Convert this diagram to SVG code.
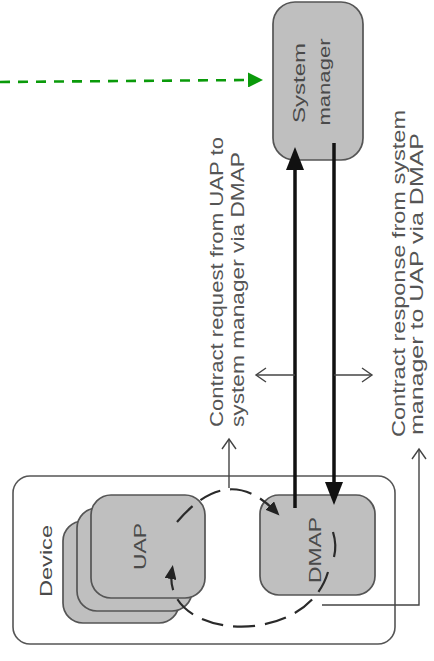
<svg xmlns="http://www.w3.org/2000/svg" width="434" height="661" viewBox="0 0 434 661">
<defs>
<style>
.dev{fill:#fff;stroke:#555;stroke-width:1.6}
.box{fill:#bfbfbf;stroke:#555;stroke-width:1.7}
.lbl{font-family:"Liberation Sans",Arial,sans-serif;font-size:18px;fill:#555}
.in{font-family:"Liberation Sans",Arial,sans-serif;font-size:17px;fill:#4a4a4a}
.thick{stroke:#111;stroke-width:3.5;fill:none}
.thin{stroke:#444;stroke-width:1.4;fill:none}
.loop{stroke:#2a2a2a;stroke-width:2.2;fill:none;stroke-dasharray:22 10}
.green{stroke:#0a9a0a;stroke-width:2.6;fill:none;stroke-dasharray:10 8}
</style>
<marker id="big" markerUnits="userSpaceOnUse" viewBox="0 0 23 18" refX="17" refY="9" markerWidth="23" markerHeight="18" orient="auto">
<path d="M0,0 L23,9 L0,18 z" fill="#111"/>
</marker>
<marker id="grn" markerUnits="userSpaceOnUse" viewBox="0 0 15 15" refX="0" refY="7.5" markerWidth="15" markerHeight="15" orient="auto">
<path d="M0,0 L15,7.5 L0,15 z" fill="#0a9a0a"/>
</marker>
<marker id="open" markerUnits="userSpaceOnUse" viewBox="-12 -9 14 18" refX="0" refY="0" markerWidth="14" markerHeight="18" orient="auto">
<path d="M-10,-7 L0,0 L-10,7" fill="none" stroke="#444" stroke-width="1.4"/>
</marker>
<marker id="sm" markerUnits="userSpaceOnUse" viewBox="0 0 14 12" refX="9" refY="6" markerWidth="14" markerHeight="12" orient="auto">
<path d="M0,0 L14,6 L0,12 z" fill="#222"/>
</marker>
</defs>

<g id="device">
<rect class="dev" x="13" y="476" width="382" height="168" rx="17"/>
<text class="in" transform="translate(52,597) rotate(-90)" textLength="72" lengthAdjust="spacingAndGlyphs">Device</text>
</g>

<g id="uap">
<rect class="box" x="63" y="521" width="116" height="102" rx="20"/>
<rect class="box" x="77" y="508" width="115" height="103" rx="20"/>
<rect class="box" x="91" y="495" width="114" height="103" rx="20"/>
<text class="in" transform="translate(146,570) rotate(-90)" textLength="47" lengthAdjust="spacingAndGlyphs">UAP</text>
</g>

<g id="dmap">
<rect class="box" x="260" y="495" width="115" height="100" rx="19"/>
<text class="in" transform="translate(321,583) rotate(-90)" textLength="66" lengthAdjust="spacingAndGlyphs">DMAP</text>
</g>

<g id="system-manager">
<rect class="box" x="273" y="2" width="90" height="158" rx="22"/>
<text class="in" text-anchor="middle" transform="translate(305,83) rotate(-90)" textLength="80" lengthAdjust="spacingAndGlyphs">System</text>
<text class="in" text-anchor="middle" transform="translate(330,82) rotate(-90)" textLength="87" lengthAdjust="spacingAndGlyphs">manager</text>
</g>

<g id="labels">
<text class="lbl" transform="translate(223,427) rotate(-90)" textLength="290" lengthAdjust="spacingAndGlyphs">Contract request from UAP to</text>
<text class="lbl" transform="translate(244,427) rotate(-90)" textLength="275" lengthAdjust="spacingAndGlyphs">system manager via DMAP</text>
<text class="lbl" transform="translate(405,437) rotate(-90)" textLength="327" lengthAdjust="spacingAndGlyphs">Contract response from system</text>
<text class="lbl" transform="translate(423,435) rotate(-90)" textLength="302" lengthAdjust="spacingAndGlyphs">manager to UAP via DMAP</text>
</g>

<g id="connectors">
<path class="green" d="M0,82 L248,80" marker-end="url(#grn)"/>
<path class="thick" d="M295,508 L295,153" marker-end="url(#big)"/>
<path class="thick" d="M334,143 L334,499" marker-end="url(#big)"/>
<path class="thin" d="M295,375 L256,375" marker-end="url(#open)"/>
<path class="thin" d="M334,375 L372,375" marker-end="url(#open)"/>
<path class="thin" d="M229,488 L229,439" marker-end="url(#open)"/>
<path class="thin" d="M322,605 L419,605 L419,449" marker-end="url(#open)"/>
<path class="loop" d="M177,522 Q228,462 276,512" marker-end="url(#sm)"/>
<path class="loop" d="M328,572 C305,650 160,640 172,570" marker-end="url(#sm)"/>
<path d="M333,532 Q337,545 334,557" fill="none" stroke="#2a2a2a" stroke-width="2.2"/>
</g>
</svg>
